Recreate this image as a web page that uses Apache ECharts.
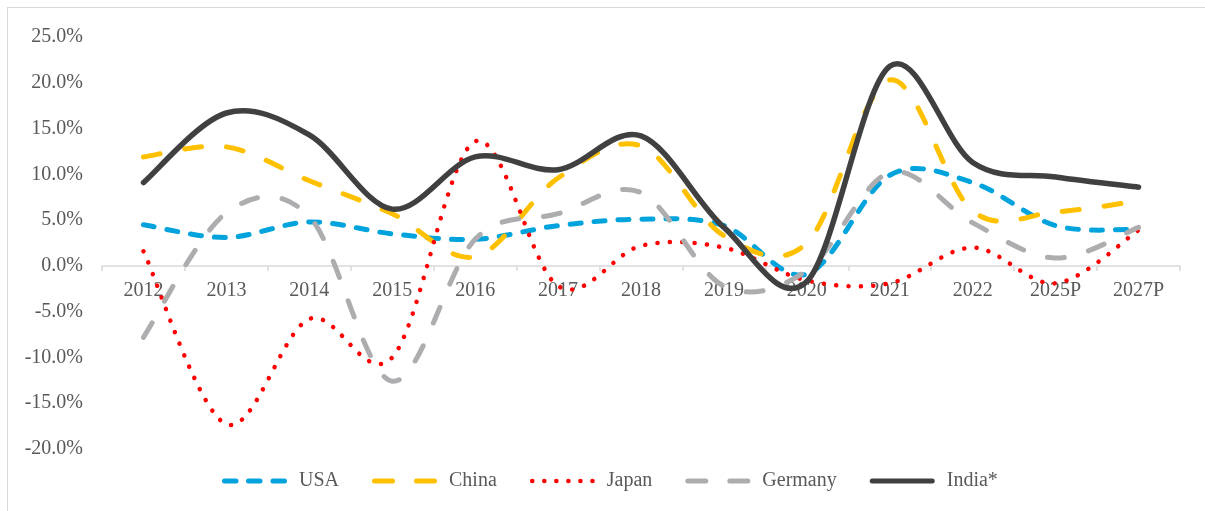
<!DOCTYPE html>
<html>
<head>
<meta charset="utf-8">
<script src="https://cdn.jsdelivr.net/npm/echarts@6/dist/echarts.min.js"></script>
<style>
  html, body { margin: 0; padding: 0; background: #fff; overflow: hidden; }
  #growth_line { position: absolute; left: 0; top: 0; }
  #frame { position: absolute; left: 7px; top: 7px; width: 1220px; height: 530px; border: 1px solid #d9d9d9; pointer-events: none; }
</style>
</head>
<body>
<div id="growth_line" style="width: 1205px; height: 511px;"></div>
<div id="frame"></div>
<script>
// values (growth, %)
const years = ['2012', '2013', '2014', '2015', '2016', '2017', '2018', '2019', '2020', '2021', '2022', '2025P', '2027P'];
const usa = [4.5, 3.1, 4.8, 3.5, 2.9, 4.4, 5.1, 4.4, -0.9, 9.9, 9.1, 4.4, 4.0];
const china = [11.9, 13.0, 9.3, 5.7, 1.0, 9.6, 13.1, 3.3, 2.5, 20.3, 6.0, 5.9, 7.1];
const japan = [1.6, -17.3, -5.8, -10.0, 13.6, -2.2, 2.2, 2.0, -1.6, -1.9, 2.0, -1.9, 3.9];
const germany = [-7.8, 5.8, 5.4, -12.6, 2.9, 5.7, 8.0, -2.2, -0.5, 10.2, 4.7, 0.85, 4.2];
const india = [9.1, 16.7, 14.3, 6.2, 11.9, 10.5, 14.2, 4.2, -1.7, 21.8, 11.3, 9.7, 8.6];
const yTicks = { min: -20, max: 25, interval: 5 };

const font = "'Liberation Serif', 'Times New Roman', serif";
const textGrey = '#595959';
const gridTop = 37, gridBottom = 62, chartHeight = 511;
// x axis sits on the 0% line
const zeroOffset = -(chartHeight - gridTop - gridBottom) * (0 - yTicks.min) / (yTicks.max - yTicks.min);

// legend icons: rounded dashes / dots drawn in a 65 x 5 box
function bars(segs) {
    return 'path://' + segs.map(function (s) {
        const a = s[0] + 2.5, b = s[1] - 2.5;
        return 'M' + a + ',0H' + b + 'A2.5,2.5 0 0 1 ' + b + ',5H' + a + 'A2.5,2.5 0 0 1 ' + a + ',0Z';
    }).join('');
}
function dots(n, step) {
    let d = '';
    for (let i = 0; i < n; i++) {
        const cx = 2.5 + i * step;
        d += 'M' + (cx - 2.3) + ',2.5A2.3,2.3 0 1 1 ' + (cx + 2.3) + ',2.5A2.3,2.3 0 1 1 ' + (cx - 2.3) + ',2.5Z';
    }
    return 'path://M0,0.2' + d;
}

const countries = [
    { name: 'USA', data: usa, color: '#00a3dc', width: 5, dash: [11, 13], icon: bars([[0, 16.5], [24, 40.5], [48.5, 65]]) },
    { name: 'China', data: china, color: '#ffc000', width: 5, dash: [17, 25], icon: bars([[0, 23], [42, 65]]) },
    { name: 'Japan', data: japan, color: '#ff0000', width: 4.5, dash: [0.1, 12.3], icon: dots(6, 12) },
    { name: 'Germany', data: germany, color: '#adadb0', width: 5, dash: [17, 25], icon: bars([[0, 23], [42, 65]]) },
    { name: 'India*', data: india, color: '#404040', width: 5.5, dash: null, icon: bars([[0, 65]]) }
];

// Excel-like smoothed line (Catmull-Rom through the points, via api.coord)
function smoothRenderer(c) {
    return function (params, api) {
        if (params.dataIndex !== 0) return null;
        const pts = c.data.map(function (v, i) { return api.coord([i, v]); });
        const n = pts.length;
        let d = 'M' + pts[0][0] + ',' + pts[0][1];
        for (let i = 0; i < n - 1; i++) {
            const p0 = pts[Math.max(i - 1, 0)], p1 = pts[i], p2 = pts[i + 1], p3 = pts[Math.min(i + 2, n - 1)];
            const c1x = p1[0] + (p2[0] - p0[0]) / 6, c1y = p1[1] + (p2[1] - p0[1]) / 6;
            const c2x = p2[0] - (p3[0] - p1[0]) / 6, c2y = p2[1] - (p3[1] - p1[1]) / 6;
            d += 'C' + c1x + ',' + c1y + ',' + c2x + ',' + c2y + ',' + p2[0] + ',' + p2[1];
        }
        return {
            type: 'path',
            shape: { pathData: d },
            style: {
                fill: 'none',
                stroke: c.color,
                lineWidth: c.width,
                lineDash: c.dash,
                lineCap: 'round',
                lineJoin: 'round'
            }
        };
    };
}

let series = countries.map(function (c) {
    return {
        name: c.name,
        type: 'custom',
        data: c.data.map(function (v, i) { return [i, v]; }),
        encode: { x: 0, y: 1 },
        clip: false,
        itemStyle: { color: c.color },
        renderItem: smoothRenderer(c)
    };
});

let chart = echarts.init(document.getElementById('growth_line'))
let option = {
    animation: false,
    backgroundColor: '#fff',
    grid: {
        left: 102,
        right: 25,
        top: gridTop,
        bottom: gridBottom
    },
    legend: {
        top: 466,
        left: 217,
        itemWidth: 65,
        itemHeight: 5,
        itemGap: 33,
        textStyle: {
            fontFamily: font,
            fontSize: 20,
            color: textGrey,
            padding: [0, 0, 0, 7]
        },
        data: countries.map(function (c) {
            return { name: c.name, icon: c.icon, itemStyle: { color: c.color } };
        })
    },
    xAxis: {
        type: 'category',
        data: years,
        boundaryGap: true,
        offset: zeroOffset,
        axisLine: {
            onZero: false,
            lineStyle: { color: '#d9d9d9', width: 1.5 }
        },
        axisTick: {
            show: true,
            length: 5,
            lineStyle: { color: '#d9d9d9', width: 1.5 }
        },
        axisLabel: {
            margin: 15,
            fontFamily: font,
            fontSize: 20,
            color: textGrey
        },
        splitLine: { show: false }
    },
    yAxis: {
        type: 'value',
        min: yTicks.min,
        max: yTicks.max,
        interval: yTicks.interval,
        axisLine: { show: false },
        axisTick: { show: false },
        splitLine: { show: false },
        axisLabel: {
            margin: 19,
            fontFamily: font,
            fontSize: 20,
            color: textGrey,
            formatter: function (v) {
                return v.toFixed(1) + '%';
            }
        }
    },
    series: series
};
chart.setOption(option)
</script>
</body>
</html>
